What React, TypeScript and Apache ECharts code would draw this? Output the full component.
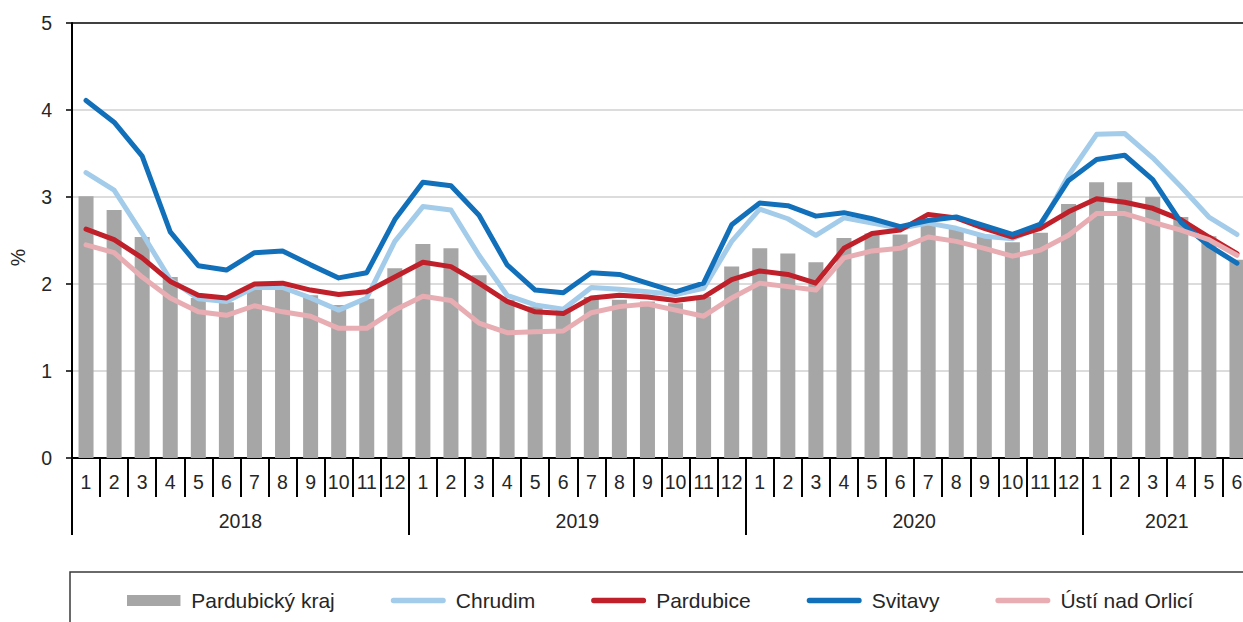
import React, { useEffect, useRef } from "react";
import * as echarts from "echarts";

const years = ["2018", "2019", "2020", "2021"];
const monthsPerYear = [12, 12, 12, 6];
const months: string[] = [];
monthsPerYear.forEach((n) => {
  for (let m = 1; m <= n; m++) months.push(String(m));
});

const pardubickyKraj = [
  3.01, 2.85, 2.54, 2.08, 1.84, 1.79, 1.95, 1.95, 1.87, 1.76, 1.83, 2.18,
  2.46, 2.41, 2.1, 1.82, 1.74, 1.7, 1.85, 1.82, 1.8, 1.78, 1.85, 2.2,
  2.41, 2.35, 2.25, 2.53, 2.58, 2.57, 2.7, 2.64, 2.56, 2.48, 2.59, 2.92,
  3.17, 3.17, 3.0, 2.77, 2.55, 2.28,
];
const chrudim = [
  3.28, 3.08, 2.58, 2.05, 1.83, 1.8, 1.96, 1.96, 1.84, 1.7, 1.84, 2.49,
  2.89, 2.85, 2.33, 1.87, 1.76, 1.71, 1.96, 1.94, 1.91, 1.88, 1.95, 2.49,
  2.86, 2.75, 2.56, 2.76, 2.7, 2.64, 2.7, 2.64, 2.55, 2.52, 2.66, 3.25,
  3.72, 3.73, 3.45, 3.12, 2.77, 2.57,
];
const pardubice = [
  2.63, 2.51, 2.3, 2.03, 1.87, 1.84, 2.0, 2.01, 1.93, 1.88, 1.91, 2.08,
  2.25, 2.2, 2.01, 1.8, 1.68, 1.66, 1.84, 1.87, 1.85, 1.81, 1.85, 2.05,
  2.15, 2.11, 2.01, 2.41, 2.58, 2.62, 2.8, 2.76, 2.64, 2.54, 2.64, 2.83,
  2.98, 2.94, 2.87, 2.74, 2.54, 2.35,
];
const svitavy = [
  4.11, 3.86, 3.47, 2.6, 2.21, 2.16, 2.36, 2.38, 2.22, 2.07, 2.13, 2.74,
  3.17, 3.13, 2.79, 2.22, 1.93, 1.9, 2.13, 2.11, 2.01, 1.91, 2.01, 2.68,
  2.93, 2.9, 2.78, 2.82, 2.75, 2.66, 2.73, 2.77, 2.67, 2.57, 2.69, 3.19,
  3.43, 3.48, 3.2, 2.71, 2.44, 2.24,
];
const ustiNadOrlici = [
  2.45, 2.36, 2.08, 1.84, 1.68, 1.64, 1.75, 1.68, 1.63, 1.49, 1.49, 1.7,
  1.86, 1.81, 1.55, 1.44, 1.45, 1.46, 1.67, 1.74, 1.77, 1.7, 1.63, 1.84,
  2.01, 1.97, 1.93, 2.3, 2.38, 2.41, 2.54, 2.49, 2.41, 2.32, 2.39, 2.56,
  2.81, 2.81, 2.71, 2.62, 2.51, 2.33,
];
const yTicks = [0, 1, 2, 3, 4, 5];

const FONT = "'Liberation Sans', Arial, sans-serif";
const TEXT = "#262626";
const LINE_ICON = "path://M2.75,0 H53.25 A2.75,2.75 0 0 1 53.25,5.5 H2.75 A2.75,2.75 0 0 1 2.75,0 Z";
const BAR_ICON = "path://M0,0 H52 V10.7 H0 Z";

export default function App() {
  const ref = useRef<HTMLDivElement>(null);
  useEffect(() => {
    if (!ref.current) return;
    const chart = echarts.init(ref.current, undefined, { renderer: "svg" });

    const yearStarts: number[] = [];
    const yearCenters: number[] = [];
    let acc = 0;
    monthsPerYear.forEach((n) => {
      yearStarts.push(acc);
      yearCenters.push(acc + n / 2);
      acc += n;
    });
    const total = acc;

    const lineSeries = (name: string, data: number[], color: string) => ({
      name,
      type: "line",
      data,
      symbol: "none",
      showSymbol: false,
      smooth: false,
      lineStyle: { color, width: 5, cap: "round", join: "round" },
      itemStyle: { color },
      z: 3,
    });

    chart.setOption({
      animation: false,
      backgroundColor: "#ffffff",
      textStyle: { fontFamily: FONT },
      grid: {
        left: 72,
        top: 23,
        width: 1179,
        height: 435,
        containLabel: false,
        outerBoundsMode: "none",
      },
      legend: {
        left: 127,
        top: 590,
        padding: 0,
        itemWidth: 55,
        itemHeight: 11,
        itemGap: 56,
        textStyle: { fontSize: 21, color: TEXT, fontFamily: FONT, padding: [0, 0, 0, 5] },
        data: [
          { name: "Pardubický kraj", icon: BAR_ICON },
          { name: "Chrudim", icon: LINE_ICON },
          { name: "Pardubice", icon: LINE_ICON },
          { name: "Svitavy", icon: LINE_ICON },
          { name: "Ústí nad Orlicí", icon: LINE_ICON },
        ],
      },
      xAxis: [
        {
          type: "category",
          data: months,
          position: "bottom",
          axisLine: { show: true, lineStyle: { color: "#000", width: 2 } },
          axisTick: { show: true, interval: 0, length: 39, lineStyle: { color: "#000", width: 2 } },
          axisLabel: { interval: 0, fontSize: 19.5, color: TEXT, margin: 14, fontFamily: FONT },
          splitLine: { show: false },
        },
        {
          type: "value",
          min: 0,
          max: total,
          position: "bottom",
          axisLine: { show: false },
          splitLine: { show: false },
          axisTick: {
            show: true,
            customValues: yearStarts,
            length: 77,
            lineStyle: { color: "#000", width: 2 },
          },
          axisLabel: {
            show: true,
            customValues: yearCenters,
            fontSize: 19.5,
            color: TEXT,
            margin: 53,
            fontFamily: FONT,
            formatter: (v: number) => {
              const i = yearCenters.findIndex((c) => Math.abs(c - v) < 0.01);
              return i >= 0 ? years[i] : "";
            },
          },
        },
      ],
      yAxis: {
        type: "value",
        min: yTicks[0],
        max: yTicks[yTicks.length - 1],
        interval: 1,
        name: "%",
        nameLocation: "middle",
        nameRotate: 90,
        nameGap: 44,
        nameTextStyle: { fontSize: 19.5, color: TEXT, fontFamily: FONT, padding: [0, 34, 0, 0] },
        axisLine: { show: true, lineStyle: { color: "#000", width: 2 } },
        axisTick: { show: true, length: 6, lineStyle: { color: "#000", width: 1.5 } },
        axisLabel: { fontSize: 19.5, color: TEXT, margin: 20, fontFamily: FONT },
        splitLine: {
          show: true,
          lineStyle: {
            color: ["#d0d0d0", "#d0d0d0", "#d0d0d0", "#d0d0d0", "#d0d0d0", "#000000"],
            width: 1.5,
          },
        },
      },
      graphic: [
        {
          type: "rect",
          shape: { x: 70, y: 572, width: 1300, height: 120 },
          style: { fill: "none", stroke: "#3a3a3a", lineWidth: 1.5 },
          silent: true,
        },
      ],
      series: [
        {
          name: "Pardubický kraj",
          type: "bar",
          data: pardubickyKraj,
          barWidth: 15,
          itemStyle: { color: "#a6a6a6" },
          z: 2,
        },
        lineSeries("Chrudim", chrudim, "#a3cbea"),
        lineSeries("Pardubice", pardubice, "#c0202a"),
        lineSeries("Svitavy", svitavy, "#1170b9"),
        lineSeries("Ústí nad Orlicí", ustiNadOrlici, "#e8adb2"),
      ],
    });
    return () => chart.dispose();
  }, []);

  return (
    <div
      ref={ref}
      style={{ position: "fixed", left: 0, top: 0, width: 1275, height: 680 }}
    />
  );
}
